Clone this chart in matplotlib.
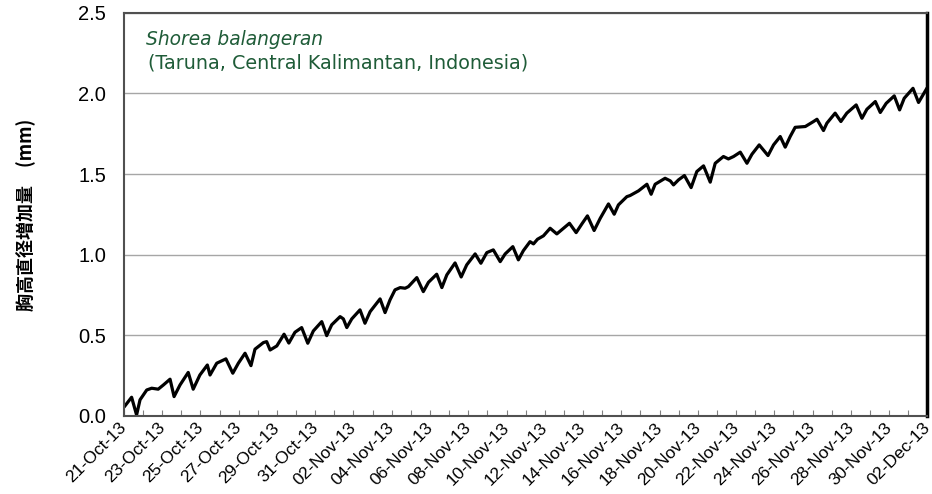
import matplotlib
matplotlib.use("Agg")
import matplotlib.pyplot as plt
import matplotlib.dates as mdates
import matplotlib.transforms as mtransforms
import pandas as pd

# 経過日数 (21-Oct-13 起点) と 胸高直径増加量 (mm)
dias = [0.05, 0.40, 0.66, 0.84, 1.19, 1.45, 1.79, 2.06, 2.41, 2.62,
        2.93, 3.36, 3.62, 3.97, 4.36, 4.50, 4.85, 5.33, 5.69, 5.98,
        6.33, 6.64, 6.85, 7.29, 7.46, 7.64, 7.99, 8.37, 8.62, 8.94,
        9.29, 9.61, 9.90, 10.34, 10.60, 10.86, 11.30, 11.47, 11.65, 11.91,
        12.34, 12.60, 12.87, 13.39, 13.65, 13.91, 14.17, 14.44, 14.70, 14.87,
        15.31, 15.65, 15.92, 16.35, 16.62, 16.88, 17.31, 17.63, 17.92, 18.36,
        18.66, 18.97, 19.31, 19.67, 19.93, 20.33, 20.62, 20.88, 21.23, 21.41,
        21.62, 21.93, 22.28, 22.63, 22.98, 23.29, 23.64, 23.94, 24.23, 24.58,
        24.90, 25.33, 25.63, 25.85, 26.29, 26.46, 26.90, 27.34, 27.56, 27.77,
        28.29, 28.56, 28.73, 28.99, 29.30, 29.65, 29.95, 30.30, 30.65, 30.91,
        31.34, 31.60, 31.87, 32.22, 32.57, 32.83, 33.21, 33.67, 33.96, 34.31,
        34.57, 34.83, 35.09, 35.62, 36.05, 36.23, 36.57, 36.75, 37.18, 37.48,
        37.79, 38.28, 38.58, 38.84, 39.28, 39.54, 39.85, 40.27, 40.55, 40.79,
        41.25, 41.54, 41.72, 41.95]
incremento = [0.062, 0.116, 0.006, 0.100, 0.161, 0.172, 0.166, 0.192, 0.228, 0.120,
              0.192, 0.270, 0.166, 0.254, 0.316, 0.254, 0.327, 0.354, 0.265, 0.327,
              0.389, 0.312, 0.414, 0.455, 0.461, 0.409, 0.434, 0.507, 0.452, 0.519,
              0.548, 0.451, 0.527, 0.585, 0.498, 0.565, 0.616, 0.602, 0.548, 0.602,
              0.658, 0.575, 0.647, 0.726, 0.641, 0.720, 0.782, 0.796, 0.792, 0.802,
              0.858, 0.771, 0.829, 0.879, 0.796, 0.875, 0.949, 0.862, 0.937, 1.005,
              0.947, 1.013, 1.030, 0.957, 1.005, 1.050, 0.968, 1.025, 1.081, 1.067,
              1.096, 1.117, 1.164, 1.129, 1.164, 1.195, 1.137, 1.191, 1.241, 1.150,
              1.226, 1.315, 1.251, 1.309, 1.360, 1.367, 1.396, 1.437, 1.375, 1.437,
              1.474, 1.458, 1.433, 1.464, 1.491, 1.416, 1.516, 1.551, 1.450, 1.567,
              1.609, 1.594, 1.609, 1.636, 1.567, 1.623, 1.681, 1.615, 1.681, 1.733,
              1.667, 1.733, 1.790, 1.795, 1.826, 1.840, 1.770, 1.816, 1.878, 1.826,
              1.878, 1.929, 1.846, 1.902, 1.950, 1.882, 1.939, 1.985, 1.898, 1.970,
              2.032, 1.944, 1.981, 2.027]

inicio = pd.Timestamp("2013-10-21")
fim = pd.Timestamp("2013-12-02")
tempos = inicio + pd.to_timedelta(dias, unit="D")
rotulos_x = pd.date_range(inicio, fim, freq="2D")

especie = "Shorea balangeran"
local = "(Taruna, Central Kalimantan, Indonesia)"
rotulo_y = "胸高直径増加量\u3000(mm)"

fig = plt.figure(figsize=(9.32, 4.94), dpi=100)
ax = fig.add_axes([0.133, 0.158, 0.862, 0.816])

ax.plot(tempos, incremento, color="black", lw=2.3, solid_joinstyle="round")

ax.set_xlim(inicio, fim)
ax.set_ylim(0, 2.5)
ax.set_yticks([0, 0.5, 1.0, 1.5, 2.0, 2.5])
ax.yaxis.set_major_formatter(plt.FormatStrFormatter("%.1f"))
ax.grid(axis="y", color="#a6a6a6", lw=1.0)
ax.set_axisbelow(True)

ax.set_xticks(rotulos_x)
ax.xaxis.set_minor_locator(mdates.DayLocator())
ax.xaxis.set_major_formatter(mdates.DateFormatter("%d-%b-%y"))
ax.tick_params(axis="x", which="both", direction="in", length=4, color="#808080", width=0.8)
ax.tick_params(axis="x", which="major", labelsize=12.6, pad=3)
ax.tick_params(axis="y", length=0, labelsize=14.5, pad=13)
desloca = mtransforms.ScaledTranslation(-5 / 100, 0, fig.dpi_scale_trans)
for t in ax.get_xticklabels():
    t.set_rotation(45)
    t.set_ha("right")
    t.set_rotation_mode("anchor")
    t.set_family(["Liberation Sans", "DejaVu Sans"])
    t.set_transform(t.get_transform() + desloca)
for t in ax.get_yticklabels():
    t.set_family(["Liberation Sans", "DejaVu Sans"])

for lado in ["top", "left", "bottom"]:
    ax.spines[lado].set_color("#505050")
    ax.spines[lado].set_linewidth(1.5)
ax.spines["right"].set_color("black")
ax.spines["right"].set_linewidth(2.5)

ax.set_ylabel(rotulo_y, fontsize=13, fontweight="bold", labelpad=30,
              family=["Noto Sans CJK JP", "DejaVu Sans"])

ax.text(0.028, 0.935, especie, transform=ax.transAxes, fontsize=13.4, style="italic",
        color="#1f5c38", family="DejaVu Sans", va="center")
ax.text(0.030, 0.875, local, transform=ax.transAxes, fontsize=13.8,
        color="#1f5c38", family="DejaVu Sans", va="center")

fig.savefig("out.png", dpi=100)
